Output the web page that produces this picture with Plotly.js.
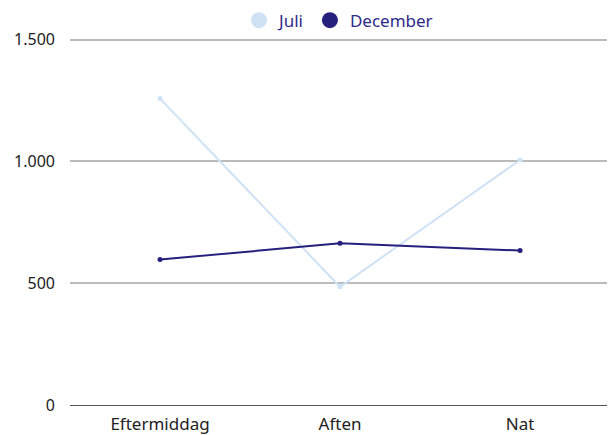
<!DOCTYPE html>
<html>
<head>
<meta charset="utf-8">
<script src="https://cdn.plot.ly/plotly-3.0.1.min.js"></script>
<style>html,body{margin:0;padding:0;background:#fff;}#chart{width:608px;height:435px;}</style>
</head>
<body>
<div id="chart"></div>
<script>
const categories = ["Eftermiddag", "Aften", "Nat"];
const juli = [1258, 485, 1006];
const december = [597, 664, 634];
const seriesNames = ["Juli", "December"];
const colors = ["#cfe2f5", "#251f7e"];

const traces = [juli, december].map((vals, i) => ({
  type: "scatter",
  mode: "lines+markers",
  x: categories,
  y: vals,
  name: seriesNames[i],
  line: {color: colors[i], width: 2},
  marker: {color: colors[i], size: 5},
  showlegend: false,
  cliponaxis: false,
  hovertemplate: "%{y}<extra>" + seriesNames[i] + "</extra>"
}));
const legendTraces = seriesNames.map((n, i) => ({
  type: "scatter",
  mode: "markers",
  x: [null],
  y: [null],
  name: n,
  marker: {color: colors[i], size: 20},
  showlegend: true
}));

const layout = {
  width: 608,
  height: 435,
  margin: {l: 70, r: 1, t: 36, b: 30},
  paper_bgcolor: "#fff",
  plot_bgcolor: "#fff",
  separators: ",.",
  font: {family: "'Noto Sans', 'Open Sans', sans-serif", size: 16, color: "#222"},
  showlegend: true,
  legend: {
    orientation: "h",
    x: 0.5, xanchor: "center",
    y: 0.993, yanchor: "bottom",
    font: {color: "#2e2a8a", size: 17},
    itemsizing: "trace",
    itemwidth: 30,
    bgcolor: "rgba(0,0,0,0)"
  },
  xaxis: {
    type: "category",
    range: [-0.5, 2.483],
    showgrid: false,
    showline: true,
    linecolor: "#555",
    linewidth: 1,
    ticks: "",
    zeroline: false,
    ticklabelstandoff: 4,
    tickfont: {size: 17, color: "#222"}
  },
  yaxis: {
    range: [0, 1515],
    tickvals: [0, 500, 1000, 1500],
    tickformat: ",d",
    showgrid: true,
    gridcolor: "#bbbbbb",
    gridwidth: 1.5,
    zeroline: false,
    showline: false,
    ticks: "",
    ticklabelstandoff: 14,
    tickfont: {size: 16, color: "#222"}
  }
};

Plotly.newPlot("chart", [...traces, ...legendTraces], layout, {displayModeBar: false});
</script>
</body>
</html>
